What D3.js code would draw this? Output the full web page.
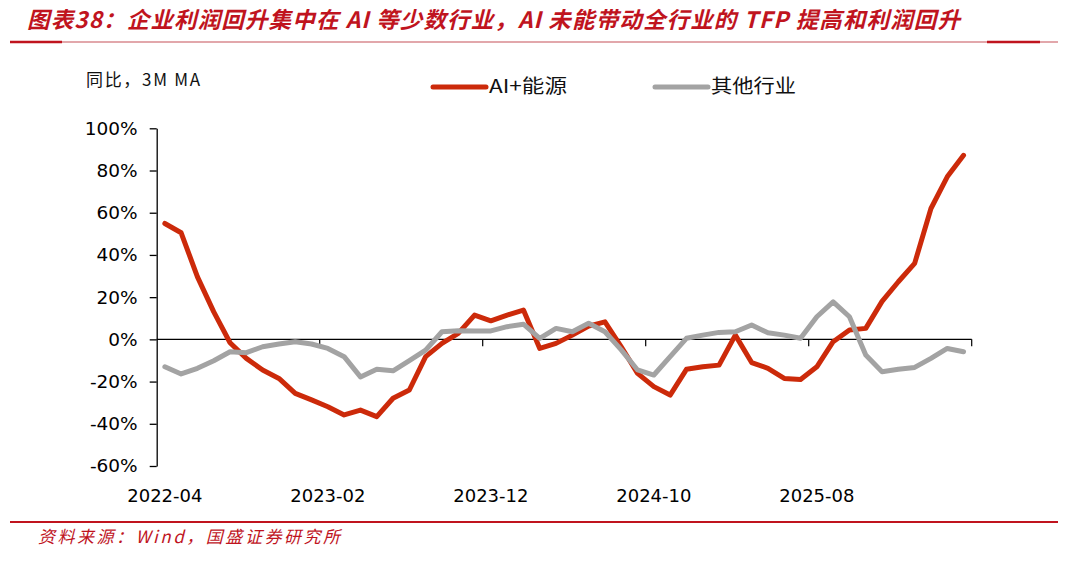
<!DOCTYPE html>
<html><head><meta charset="utf-8">
<script src="https://cdn.jsdelivr.net/npm/d3@7"></script>
<style>
html,body{margin:0;padding:0;background:#fff;}
svg{display:block;}
</style></head>
<body>
<svg id="chart" width="1080" height="578"></svg>
<script>
const categories = ["2022-04","2022-05","2022-06","2022-07","2022-08","2022-09","2022-10","2022-11","2022-12","2023-01",
"2023-02","2023-03","2023-04","2023-05","2023-06","2023-07","2023-08","2023-09","2023-10","2023-11",
"2023-12","2024-01","2024-02","2024-03","2024-04","2024-05","2024-06","2024-07","2024-08","2024-09",
"2024-10","2024-11","2024-12","2025-01","2025-02","2025-03","2025-04","2025-05","2025-06","2025-07",
"2025-08","2025-09","2025-10","2025-11","2025-12","2026-01","2026-02","2026-03","2026-04","2026-05"];
const aiEnergy = [54.9,50.5,29.6,13,-1.6,-9,-14.5,-18.5,-25.6,-28.7,
-31.9,-35.8,-33.5,-36.6,-27.9,-24,-8.2,-1.9,2.8,11.5,
8.8,11.5,13.9,-4.3,-1.9,2,6.3,8.3,-3.5,-16.1,
-22.4,-26.4,-14.2,-13,-12.2,2,-11,-13.7,-18.5,-19,
-13,-1.1,4.4,5.2,18,27.3,36,62,77,87.2];
const others = [-13,-16.4,-13.7,-10.1,-5.9,-6.3,-3.5,-2.2,-1.1,-2.2,
-4.3,-8.2,-17.8,-14.2,-14.9,-10.1,-5.1,3.6,4.1,4,
4,6,7.2,0.5,5.2,3.6,7.6,3.6,-5,-14.5,
-16.9,-8.2,0.5,2,3.3,3.6,6.8,3.1,2,0.5,
10.7,17.8,10.7,-7.4,-15.3,-14.2,-13.3,-9,-4.3,-5.9];
const yTicks = [-60,-40,-20,0,20,40,60,80,100];
const xLabelEvery = 10;
const seriesNames = ["AI+能源","其他行业"];
const titleText = "图表38：企业利润回升集中在 AI 等少数行业，AI 未能带动全行业的 TFP 提高和利润回升";
const unitText = "同比，3M MA";
const sourceText = "资料来源：Wind，国盛证券研究所";

(function(){
const RED = "#cc2a0a", GRAY = "#a3a3a3", BRAND = "#c0141e";
const svg = d3.select("#chart");
const pLeft = 156.7, pRight = 971.7, pTop = 128.3, pBottom = 466;

const x = d3.scaleBand().domain(categories).range([pLeft, pRight]).padding(0);
const cx = c => x(c) + x.bandwidth()/2;
const y = d3.scaleLinear().domain([-60,100]).range([pBottom, pTop]);

// title
svg.append("text").attr("x", 27).attr("y", 28)
  .attr("font-family", "'Noto Sans CJK SC', sans-serif")
  .attr("font-weight", "bold").attr("font-style", "italic")
  .attr("font-size", 22.5).attr("fill", BRAND)
  .attr("textLength", 933).attr("lengthAdjust", "spacing")
  .text(titleText);
svg.append("line").attr("x1", 10).attr("x2", 1058).attr("y1", 42).attr("y2", 42)
  .attr("stroke", "#d98a8f").attr("stroke-width", 1.5);
svg.append("line").attr("x1", 10).attr("x2", 62).attr("y1", 42).attr("y2", 42)
  .attr("stroke", BRAND).attr("stroke-width", 2.5);
svg.append("line").attr("x1", 987).attr("x2", 1040).attr("y1", 42).attr("y2", 42)
  .attr("stroke", BRAND).attr("stroke-width", 2.5);

// unit
svg.append("text").attr("x", 86).attr("y", 86)
  .attr("font-family", "'Noto Sans CJK SC', sans-serif").attr("font-size", 17).attr("fill", "#111")
  .attr("textLength", 114).attr("lengthAdjust", "spacing")
  .text(unitText);

// legend
const legend = [{name: seriesNames[0], color: RED, x: 433, w: 78}, {name: seriesNames[1], color: GRAY, x: 655, w: 85}];
legend.forEach(l => {
  svg.append("line").attr("x1", l.x).attr("x2", l.x + 53).attr("y1", 87).attr("y2", 87)
    .attr("stroke", l.color).attr("stroke-width", 5).attr("stroke-linecap", "round");
  svg.append("text").attr("x", l.x + 56).attr("y", 93)
    .attr("font-family", "'Noto Sans CJK SC', sans-serif").attr("font-size", 19).attr("fill", "#111")
    .attr("textLength", l.w).attr("lengthAdjust", "spacingAndGlyphs")
    .text(l.name);
});

// y axis
const yAxis = d3.axisLeft(y).tickValues(yTicks).tickFormat(d => d + "%").tickSize(7).tickSizeOuter(0).tickPadding(12);
const gy = svg.append("g").attr("transform", `translate(${pLeft},0)`).call(yAxis);
gy.selectAll("text").attr("font-family", "'DejaVu Sans', Verdana, sans-serif").attr("font-size", 18.5).attr("fill", "#000");
gy.selectAll("line,path").attr("stroke", "#000").attr("stroke-width", 1.3);

// zero axis with boundary ticks
const y0 = y(0);
svg.append("line").attr("x1", pLeft).attr("x2", pRight).attr("y1", y0).attr("y2", y0)
  .attr("stroke", "#000").attr("stroke-width", 1.2);
const boundaries = categories.map((c,i)=>i).filter(i => i % xLabelEvery === 0 && i > 0).map(i => x(categories[i])).concat([pRight]);
svg.selectAll(".xt").data(boundaries).enter().append("line")
  .attr("x1", d => d).attr("x2", d => d).attr("y1", y0).attr("y2", y0 + 7)
  .attr("stroke", "#000").attr("stroke-width", 1.2);
svg.selectAll(".xl").data(categories.filter((c,i) => i % xLabelEvery === 0)).enter().append("text")
  .attr("x", d => cx(d)).attr("y", 502).attr("text-anchor", "middle")
  .attr("font-family", "'DejaVu Sans', Verdana, sans-serif").attr("font-size", 18).attr("fill", "#000")
  .text(d => d);

// lines
const line = d3.line().x((d,i) => cx(categories[i])).y(d => y(d));
svg.append("path").datum(aiEnergy).attr("d", line).attr("fill", "none")
  .attr("stroke", RED).attr("stroke-width", 5).attr("stroke-linejoin", "round").attr("stroke-linecap", "round");
svg.append("path").datum(others).attr("d", line).attr("fill", "none")
  .attr("stroke", GRAY).attr("stroke-width", 5).attr("stroke-linejoin", "round").attr("stroke-linecap", "round");

// footer
svg.append("line").attr("x1", 10).attr("x2", 1058).attr("y1", 522).attr("y2", 522)
  .attr("stroke", BRAND).attr("stroke-width", 1.8);
svg.append("text").attr("x", 38).attr("y", 543)
  .attr("font-family", "'Noto Sans CJK SC', sans-serif").attr("font-style", "italic")
  .attr("font-size", 17).attr("fill", BRAND)
  .attr("textLength", 302).attr("lengthAdjust", "spacing")
  .text(sourceText);
})();
</script>
</body></html>
